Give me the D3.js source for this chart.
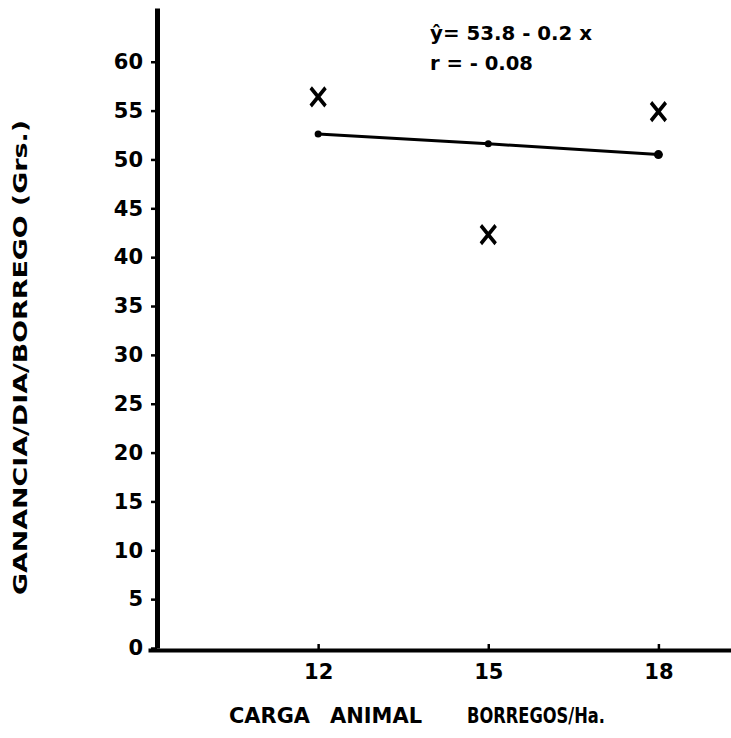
<!DOCTYPE html>
<html>
  <head>
    <meta charset="utf-8" />
    <title>Ganancia por dia</title>
    <script src="https://cdn.jsdelivr.net/npm/d3@7/dist/d3.min.js"></script>
    <style>
      body { margin: 0; background: #fff; }
      text { font-family: "DejaVu Sans", sans-serif; font-weight: bold; fill: #000; }
    </style>
  </head>
  <body>
    <div id="canvas"></div>
  </body>
  <script>
    // data
    const cargas = [12, 15, 18];
    const observados = [56.4, 42.3, 54.9];   // the "X" marks
    const ajustados = [52.6, 51.6, 50.5];    // regression line points
    const yTicks = d3.range(0, 61, 5);
    const ecuacion = ["ŷ= 53.8 - 0.2 x", "r = - 0.08"];

    const width = 731;
    const height = 738;

    const svg = d3
      .create("svg")
      .attr("width", width)
      .attr("height", height)
      .attr("viewBox", [0, 0, width, height]);

    const x = d3.scaleLinear().domain([9, 19.28]).range([148, 731]);
    const y = d3.scaleLinear().domain([0, 65.5]).range([648, 8]);

    // y axis
    const gy = svg
      .append("g")
      .attr("transform", "translate(157,0)")
      .call(d3.axisLeft(y).tickValues(yTicks).tickSize(6).tickSizeOuter(0).tickPadding(8));
    gy.select(".domain").attr("stroke", "#000").attr("stroke-width", 5);
    gy.selectAll(".tick line").attr("stroke-width", 2.5);
    gy.selectAll(".tick text")
      .attr("font-size", 21)
      .attr("font-family", "DejaVu Sans")
      .attr("font-weight", "bold");

    // x axis
    const gx = svg
      .append("g")
      .attr("transform", "translate(0,650)")
      .call(d3.axisBottom(x).tickValues(cargas).tickSize(-6).tickSizeOuter(0).tickPadding(14));
    gx.select(".domain").attr("stroke", "#000").attr("stroke-width", 4);
    gx.selectAll(".tick line").attr("stroke-width", 2.5);
    gx.selectAll(".tick text")
      .attr("font-size", 21)
      .attr("font-family", "DejaVu Sans")
      .attr("font-weight", "bold");

    // regression line
    const pts = cargas.map((c, i) => [c, ajustados[i]]);
    svg
      .append("path")
      .datum(pts)
      .attr("fill", "none")
      .attr("stroke", "#000")
      .attr("stroke-width", 3)
      .attr("d", d3.line().x((d) => x(d[0])).y((d) => y(d[1])));

    svg
      .append("g")
      .selectAll()
      .data(pts)
      .join("circle")
      .attr("cx", (d) => x(d[0]))
      .attr("cy", (d) => y(d[1]))
      .attr("r", (d, i) => (i === 2 ? 4.5 : 3.5))
      .attr("fill", "#000");

    // observed points
    svg
      .append("g")
      .selectAll()
      .data(cargas.map((c, i) => [c, observados[i]]))
      .join("path")
      .attr("transform", (d) => `translate(${x(d[0])},${y(d[1])}) scale(0.85,1.05)`)
      .attr("d", d3.symbol(d3.symbolX, 200))
      .attr("fill", "none")
      .attr("stroke", "#000")
      .attr("stroke-width", 4);

    // equation
    svg
      .append("g")
      .selectAll()
      .data(ecuacion)
      .join("text")
      .attr("x", 430)
      .attr("y", (d, i) => 40 + i * 30)
      .attr("font-size", 19)
      .attr("textLength", (d, i) => (i === 0 ? 162 : 103))
      .attr("lengthAdjust", "spacingAndGlyphs")
      .text((d) => d);

    // axis titles
    const xt = svg.append("g").attr("font-size", 21);
    xt.append("text").attr("x", 229).attr("y", 723).attr("textLength", 81).attr("lengthAdjust", "spacingAndGlyphs").text("CARGA");
    xt.append("text").attr("x", 330).attr("y", 723).attr("textLength", 92).attr("lengthAdjust", "spacingAndGlyphs").text("ANIMAL");
    xt.append("text").attr("x", 467).attr("y", 723).attr("textLength", 138).attr("lengthAdjust", "spacingAndGlyphs").text("BORREGOS/Ha.");

    svg
      .append("text")
      .attr("transform", "translate(27,595) rotate(-90)")
      .attr("font-size", 19)
      .attr("textLength", 475)
      .attr("lengthAdjust", "spacingAndGlyphs")
      .text("GANANCIA/DIA/BORREGO (Grs.)");

    canvas.append(svg.node());
  </script>
</html>
